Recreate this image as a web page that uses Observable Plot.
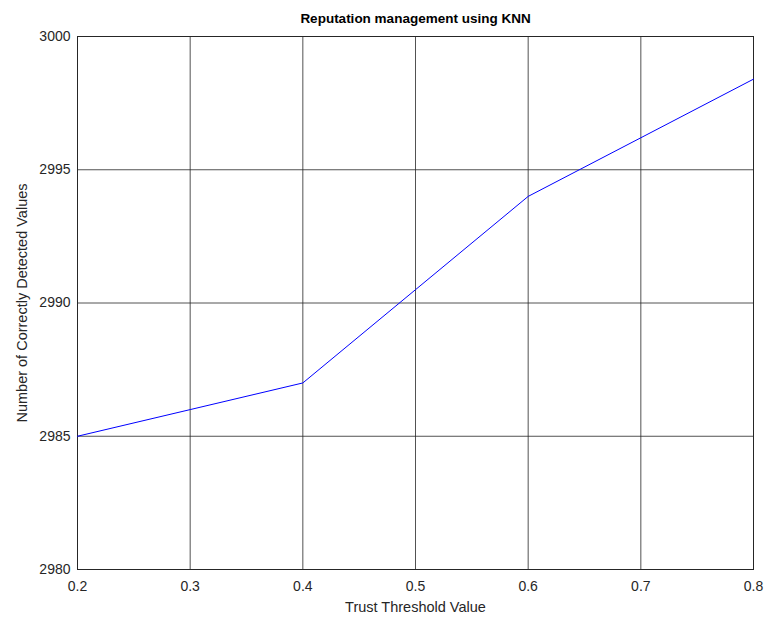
<!DOCTYPE html>
<html><head><meta charset="utf-8">
<script src="https://cdn.jsdelivr.net/npm/d3@7"></script>
<script src="https://cdn.jsdelivr.net/npm/@observablehq/plot@0.6"></script>
<style>body{margin:0;background:#fff;} svg{font-family:"Liberation Sans",Arial,sans-serif;}</style>
</head><body><div id="chart"></div>
<script>
const thresholds = [0.2, 0.3, 0.4, 0.5, 0.6, 0.7, 0.8];
const detected = [2985, 2986, 2987, 2990.5, 2994, 2996.2, 2998.4];
const xTicks = [0.2, 0.3, 0.4, 0.5, 0.6, 0.7, 0.8];
const yTicks = [2980, 2985, 2990, 2995, 3000];
const title = "Reputation management using KNN";
const xLabel = "Trust Threshold Value";
const yLabel = "Number of Correctly Detected Values";

const data = thresholds.map((t, i) => ({t, v: detected[i]}));

const chart = Plot.plot({
  width: 766, height: 618,
  marginTop: 36, marginLeft: 77, marginRight: 13, marginBottom: 49,
  style: {fontFamily: '"Liberation Sans", Arial, sans-serif', fontSize: "14px", color: "#262626", background: "#fff"},
  x: {domain: [0.2, 0.8], ticks: xTicks, tickFormat: d => d.toFixed(1), tickSize: 0, tickPadding: 12, label: xLabel, labelAnchor: "center", labelOffset: 42, labelArrow: "none"},
  y: {domain: [2980, 3000], ticks: yTicks, tickFormat: d => String(d), tickSize: 0, tickPadding: 7, label: yLabel, labelAnchor: "center", labelOffset: 61, labelArrow: "none"},
  marks: [
    Plot.ruleX(xTicks, {stroke: "#262626", strokeWidth: 0.8}),
    Plot.ruleY(yTicks, {stroke: "#262626", strokeWidth: 0.8}),
    Plot.frame({stroke: "#262626", strokeWidth: 1}),
    Plot.line(data, {x: "t", y: "v", stroke: "#0000ff", strokeWidth: 1}),
    Plot.text([title], {frameAnchor: "top", dy: -23, text: d => d, fontWeight: "bold", fontSize: 13.5, fill: "#000"})
  ]
});
chart.querySelectorAll('[aria-label="x-axis label"] text, [aria-label="y-axis label"] text').forEach(t => t.style.fontSize = "14.5px");
document.getElementById("chart").appendChild(chart);
</script></body></html>
